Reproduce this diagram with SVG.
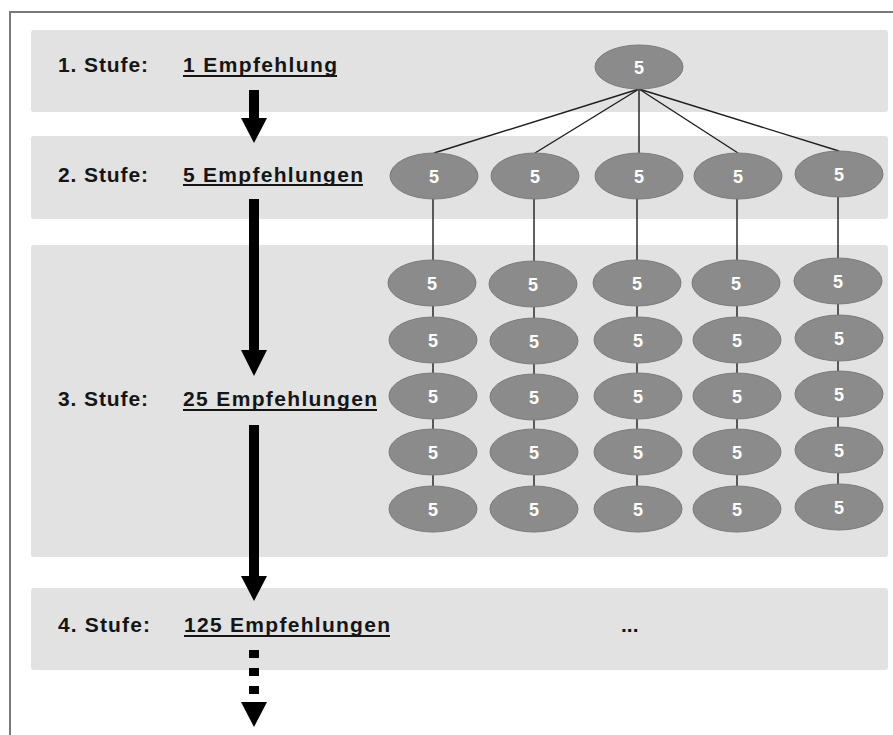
<svg xmlns="http://www.w3.org/2000/svg" width="893" height="735" viewBox="0 0 893 735">
  <style>
    .band { fill: #e2e2e2; }
    .lbl { font-family: "Liberation Sans", Arial, sans-serif; font-weight: bold; font-size: 21px; fill: #151515; }
    .ul { stroke: #151515; stroke-width: 2; }
    .node ellipse { fill: #8b8b8b; stroke: #7a7a7a; stroke-width: 1; }
    .node text { font-family: "Liberation Sans", Arial, sans-serif; font-weight: bold; font-size: 18px; fill: #ffffff; text-anchor: middle; }
    .edge { stroke: #1e1e1e; stroke-width: 1.4; fill: none; }
    .arrow { fill: #000000; }
  </style>

  <!-- outer frame (runs off the right and bottom edges) -->
  <rect x="10" y="12" width="900" height="740" fill="#ffffff" stroke="#7a7a7a" stroke-width="2"/>

  <!-- stage bands -->
  <g id="bands">
    <rect class="band" x="31" y="30" width="857" height="82" rx="3"/>
    <rect class="band" x="31" y="136" width="857" height="83" rx="3"/>
    <rect class="band" x="31" y="245" width="857" height="312" rx="3"/>
    <rect class="band" x="31" y="588" width="857" height="82" rx="3"/>
  </g>

  <!-- stage labels -->
  <g id="labels">
    <text class="lbl" x="58" y="72" textLength="90" lengthAdjust="spacing">1. Stufe:</text>
    <text class="lbl" x="183" y="72" textLength="154" lengthAdjust="spacing">1 Empfehlung</text>
    <line class="ul" x1="183" y1="76" x2="337" y2="76"/>

    <text class="lbl" x="58" y="182" textLength="90" lengthAdjust="spacing">2. Stufe:</text>
    <text class="lbl" x="183" y="182" textLength="180" lengthAdjust="spacing">5 Empfehlungen</text>
    <line class="ul" x1="183" y1="185" x2="363" y2="185"/>

    <text class="lbl" x="58" y="406" textLength="90" lengthAdjust="spacing">3. Stufe:</text>
    <text class="lbl" x="183" y="406" textLength="194" lengthAdjust="spacing">25 Empfehlungen</text>
    <line class="ul" x1="183" y1="410" x2="377" y2="410"/>

    <text class="lbl" x="58" y="632" textLength="92" lengthAdjust="spacing">4. Stufe:</text>
    <text class="lbl" x="184" y="632" textLength="206" lengthAdjust="spacing">125 Empfehlungen</text>
    <line class="ul" x1="184" y1="636" x2="390" y2="636"/>

    <text class="lbl" x="621" y="632">...</text>
  </g>

  <!-- stage arrows -->
  <g id="arrows">
    <rect class="arrow" x="249" y="90" width="10" height="29"/>
    <polygon class="arrow" points="241,118 267,118 254,143"/>
    <rect class="arrow" x="249" y="199" width="10" height="152"/>
    <polygon class="arrow" points="241,350 267,350 254,376"/>
    <rect class="arrow" x="249" y="425" width="10" height="152"/>
    <polygon class="arrow" points="241,576 267,576 254,601"/>
    <rect class="arrow" x="249" y="650" width="10" height="8"/>
    <rect class="arrow" x="249" y="668" width="10" height="8"/>
    <rect class="arrow" x="249" y="686" width="10" height="8"/>
    <polygon class="arrow" points="241,702 267,702 254,727"/>
  </g>

  <!-- connectors -->
  <g id="connectors">
    <line class="edge" x1="639" y1="89" x2="434" y2="153"/>
    <line class="edge" x1="639" y1="89" x2="535" y2="153"/>
    <line class="edge" x1="639" y1="89" x2="639" y2="153"/>
    <line class="edge" x1="639" y1="89" x2="738" y2="153"/>
    <line class="edge" x1="639" y1="89" x2="839" y2="151"/>
    <line class="edge" x1="433" y1="198" x2="433" y2="508"/>
    <line class="edge" x1="534" y1="198" x2="534" y2="508"/>
    <line class="edge" x1="637" y1="198" x2="637" y2="508"/>
    <line class="edge" x1="737" y1="198" x2="737" y2="508"/>
    <line class="edge" x1="838" y1="196" x2="838" y2="506"/>
  </g>

  <!-- stage 1 -->
  <g id="n-root" class="node"><ellipse cx="639" cy="67" rx="44" ry="22"/><text x="639" y="73.5">5</text></g>

  <!-- stage 2 -->
  <g id="n2-1" class="node"><ellipse cx="434" cy="176" rx="44" ry="23"/><text x="434" y="182.5">5</text></g>
  <g id="n2-2" class="node"><ellipse cx="535" cy="176" rx="44" ry="23"/><text x="535" y="182.5">5</text></g>
  <g id="n2-3" class="node"><ellipse cx="639" cy="176" rx="44" ry="23"/><text x="639" y="182.5">5</text></g>
  <g id="n2-4" class="node"><ellipse cx="738" cy="176" rx="44" ry="23"/><text x="738" y="182.5">5</text></g>
  <g id="n2-5" class="node"><ellipse cx="839" cy="174" rx="44" ry="23"/><text x="839" y="180.5">5</text></g>

  <!-- stage 3 -->
  <g id="n3-1-1" class="node"><ellipse cx="432" cy="283" rx="44" ry="23"/><text x="432" y="289.5">5</text></g>
  <g id="n3-1-2" class="node"><ellipse cx="433" cy="340" rx="44" ry="23"/><text x="433" y="346.5">5</text></g>
  <g id="n3-1-3" class="node"><ellipse cx="433" cy="396" rx="44" ry="23"/><text x="433" y="402.5">5</text></g>
  <g id="n3-1-4" class="node"><ellipse cx="433" cy="452" rx="44" ry="23"/><text x="433" y="458.5">5</text></g>
  <g id="n3-1-5" class="node"><ellipse cx="433" cy="509" rx="44" ry="23"/><text x="433" y="515.5">5</text></g>

  <g id="n3-2-1" class="node"><ellipse cx="533" cy="284" rx="44" ry="23"/><text x="533" y="290.5">5</text></g>
  <g id="n3-2-2" class="node"><ellipse cx="534" cy="341" rx="44" ry="23"/><text x="534" y="347.5">5</text></g>
  <g id="n3-2-3" class="node"><ellipse cx="534" cy="397" rx="44" ry="23"/><text x="534" y="403.5">5</text></g>
  <g id="n3-2-4" class="node"><ellipse cx="534" cy="452" rx="44" ry="23"/><text x="534" y="458.5">5</text></g>
  <g id="n3-2-5" class="node"><ellipse cx="534" cy="509" rx="44" ry="23"/><text x="534" y="515.5">5</text></g>

  <g id="n3-3-1" class="node"><ellipse cx="637" cy="283" rx="44" ry="23"/><text x="637" y="289.5">5</text></g>
  <g id="n3-3-2" class="node"><ellipse cx="638" cy="340" rx="44" ry="23"/><text x="638" y="346.5">5</text></g>
  <g id="n3-3-3" class="node"><ellipse cx="638" cy="396" rx="44" ry="23"/><text x="638" y="402.5">5</text></g>
  <g id="n3-3-4" class="node"><ellipse cx="638" cy="452" rx="44" ry="23"/><text x="638" y="458.5">5</text></g>
  <g id="n3-3-5" class="node"><ellipse cx="638" cy="509" rx="44" ry="23"/><text x="638" y="515.5">5</text></g>

  <g id="n3-4-1" class="node"><ellipse cx="736" cy="283" rx="44" ry="23"/><text x="736" y="289.5">5</text></g>
  <g id="n3-4-2" class="node"><ellipse cx="737" cy="340" rx="44" ry="23"/><text x="737" y="346.5">5</text></g>
  <g id="n3-4-3" class="node"><ellipse cx="737" cy="396" rx="44" ry="23"/><text x="737" y="402.5">5</text></g>
  <g id="n3-4-4" class="node"><ellipse cx="737" cy="452" rx="44" ry="23"/><text x="737" y="458.5">5</text></g>
  <g id="n3-4-5" class="node"><ellipse cx="737" cy="509" rx="44" ry="23"/><text x="737" y="515.5">5</text></g>

  <g id="n3-5-1" class="node"><ellipse cx="838" cy="281" rx="44" ry="23"/><text x="838" y="287.5">5</text></g>
  <g id="n3-5-2" class="node"><ellipse cx="839" cy="338" rx="44" ry="23"/><text x="839" y="344.5">5</text></g>
  <g id="n3-5-3" class="node"><ellipse cx="839" cy="394" rx="44" ry="23"/><text x="839" y="400.5">5</text></g>
  <g id="n3-5-4" class="node"><ellipse cx="839" cy="450" rx="44" ry="23"/><text x="839" y="456.5">5</text></g>
  <g id="n3-5-5" class="node"><ellipse cx="839" cy="507" rx="44" ry="23"/><text x="839" y="513.5">5</text></g>
</svg>
